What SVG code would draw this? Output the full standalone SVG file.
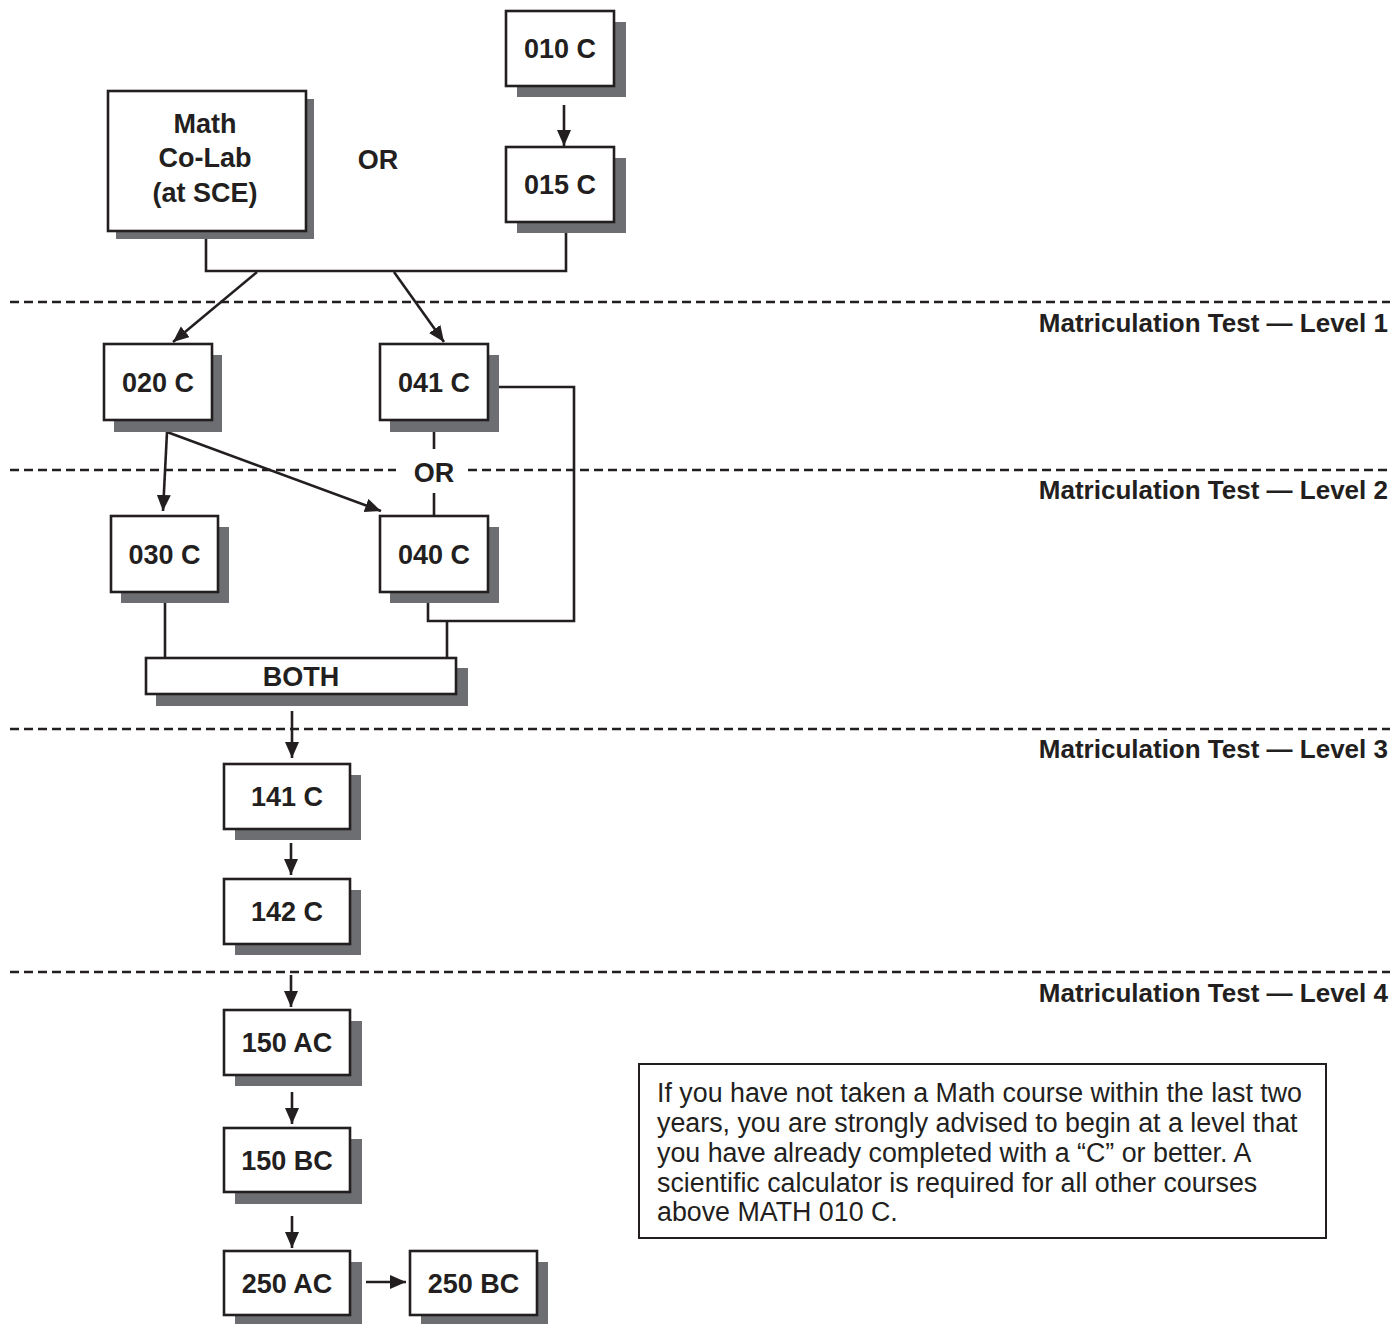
<svg xmlns="http://www.w3.org/2000/svg" width="1393" height="1324" viewBox="0 0 1393 1324">
<defs>
<marker id="ah" markerUnits="userSpaceOnUse" markerWidth="16" markerHeight="20" viewBox="0 0 16 20" refX="16" refY="7" orient="auto">
<path d="M0,0 L16,7 L0,14 Z" fill="#231f20"/>
</marker>
<style>
.bg{fill:#ffffff}
.sh{fill:#6d6e71}
.bx{fill:#ffffff;stroke:#231f20;stroke-width:2.6}
.lb{font-family:"Liberation Sans",Arial,Helvetica,sans-serif;font-weight:bold;font-size:27px;fill:#231f20;text-anchor:middle}
.lv{font-family:"Liberation Sans",Arial,Helvetica,sans-serif;font-weight:bold;font-size:26px;fill:#231f20;text-anchor:end}
.nt{font-family:"Liberation Sans",Arial,Helvetica,sans-serif;font-size:26.8px;fill:#231f20}
.dash{stroke:#231f20;stroke-width:2.6;stroke-dasharray:9,5;fill:none}
.ln{stroke:#231f20;stroke-width:2.6;fill:none}
.ar{stroke:#231f20;stroke-width:2.6;fill:none;marker-end:url(#ah)}
</style>
</defs>
<rect class="bg" x="0" y="0" width="1393" height="1324"/>

<g id="levels">
<line class="dash" x1="10" y1="302" x2="1390" y2="302"/>
<line class="dash" x1="10" y1="470" x2="396" y2="470"/>
<line class="dash" x1="468" y1="470" x2="1390" y2="470"/>
<line class="dash" x1="10" y1="729" x2="1390" y2="729"/>
<line class="dash" x1="10" y1="972" x2="1390" y2="972"/>
<text class="lv" x="1388" y="332">Matriculation Test — Level 1</text>
<text class="lv" x="1388" y="499">Matriculation Test — Level 2</text>
<text class="lv" x="1388" y="758">Matriculation Test — Level 3</text>
<text class="lv" x="1388" y="1002">Matriculation Test — Level 4</text>
</g>

<g id="connectors">
<path class="ln" d="M206,231 V271 H566 V233"/>
<path class="ln" d="M499,387 H574 V621 H428 V603"/>
<path class="ln" d="M447,621 V658"/>
<path class="ln" d="M165,603 V658"/>
<path class="ln" d="M434,432 V449"/>
<path class="ln" d="M434,493 V516"/>
<line class="ar" x1="564" y1="105" x2="564" y2="146"/>
<line class="ar" x1="257" y1="272" x2="173" y2="342"/>
<line class="ar" x1="394" y1="272" x2="444" y2="342"/>
<line class="ar" x1="167" y1="432" x2="163" y2="511"/>
<line class="ar" x1="167" y1="432" x2="381" y2="511"/>
<line class="ar" x1="292" y1="711" x2="292" y2="758"/>
<line class="ar" x1="291" y1="843" x2="291" y2="875"/>
<line class="ar" x1="291" y1="975" x2="291" y2="1007"/>
<line class="ar" x1="292" y1="1092" x2="292" y2="1124"/>
<line class="ar" x1="292" y1="1216" x2="292" y2="1248"/>
<line class="ar" x1="366" y1="1282" x2="406" y2="1282"/>
</g>

<g id="n010">
<rect class="sh" x="517" y="22" width="109" height="75"/>
<rect class="bx" x="506" y="11" width="108" height="75"/>
<text class="lb" x="560" y="58">010 C</text>
</g>
<g id="n015">
<rect class="sh" x="517" y="158" width="109" height="75"/>
<rect class="bx" x="506" y="147" width="108" height="75"/>
<text class="lb" x="560" y="194">015 C</text>
</g>
<g id="nmathcolab">
<rect class="sh" x="116" y="99" width="198" height="140"/>
<rect class="bx" x="108" y="91" width="198" height="140"/>
<text class="lb" x="205" y="133">Math</text>
<text class="lb" x="205" y="167">Co-Lab</text>
<text class="lb" x="205" y="202">(at SCE)</text>
</g>
<g id="or1">
<text class="lb" x="378" y="169">OR</text>
</g>
<g id="n020">
<rect class="sh" x="114" y="355" width="108" height="77"/>
<rect class="bx" x="104" y="344" width="108" height="76"/>
<text class="lb" x="158" y="392">020 C</text>
</g>
<g id="n041">
<rect class="sh" x="390" y="355" width="109" height="77"/>
<rect class="bx" x="380" y="344" width="108" height="76"/>
<text class="lb" x="434" y="392">041 C</text>
</g>
<g id="or2">
<text class="lb" x="434" y="482">OR</text>
</g>
<g id="n030">
<rect class="sh" x="121" y="527" width="108" height="76"/>
<rect class="bx" x="111" y="516" width="107" height="76"/>
<text class="lb" x="164.5" y="564">030 C</text>
</g>
<g id="n040">
<rect class="sh" x="390" y="527" width="109" height="76"/>
<rect class="bx" x="380" y="516" width="108" height="76"/>
<text class="lb" x="434" y="564">040 C</text>
</g>
<g id="nboth">
<rect class="sh" x="156" y="668" width="312" height="38"/>
<rect class="bx" x="146" y="658" width="310" height="36"/>
<text class="lb" x="301" y="686">BOTH</text>
</g>
<g id="n141">
<rect class="sh" x="235" y="775" width="126" height="65"/>
<rect class="bx" x="224" y="764" width="126" height="65"/>
<text class="lb" x="287" y="806">141 C</text>
</g>
<g id="n142">
<rect class="sh" x="235" y="890" width="126" height="65"/>
<rect class="bx" x="224" y="879" width="126" height="65"/>
<text class="lb" x="287" y="921">142 C</text>
</g>
<g id="n150ac">
<rect class="sh" x="235" y="1021" width="127" height="65"/>
<rect class="bx" x="224" y="1010" width="126" height="65"/>
<text class="lb" x="287" y="1052">150 AC</text>
</g>
<g id="n150bc">
<rect class="sh" x="235" y="1139" width="127" height="65"/>
<rect class="bx" x="224" y="1128" width="126" height="64"/>
<text class="lb" x="287" y="1170">150 BC</text>
</g>
<g id="n250ac">
<rect class="sh" x="235" y="1262" width="127" height="65"/>
<rect class="bx" x="224" y="1251" width="126" height="64"/>
<text class="lb" x="287" y="1293">250 AC</text>
</g>
<g id="n250bc">
<rect class="sh" x="421" y="1262" width="127" height="65"/>
<rect class="bx" x="410" y="1251" width="127" height="64"/>
<text class="lb" x="473.5" y="1293">250 BC</text>
</g>

<g id="note">
<rect x="639" y="1064" width="687" height="174" fill="#ffffff" stroke="#231f20" stroke-width="2"/>
<text class="nt" x="657" y="1102">If you have not taken a Math course within the last two</text>
<text class="nt" x="657" y="1132">years, you are strongly advised to begin at a level that</text>
<text class="nt" x="657" y="1162">you have already completed with a “C” or better. A</text>
<text class="nt" x="657" y="1192">scientific calculator is required for all other courses</text>
<text class="nt" x="657" y="1221">above MATH 010 C.</text>
</g>
</svg>
